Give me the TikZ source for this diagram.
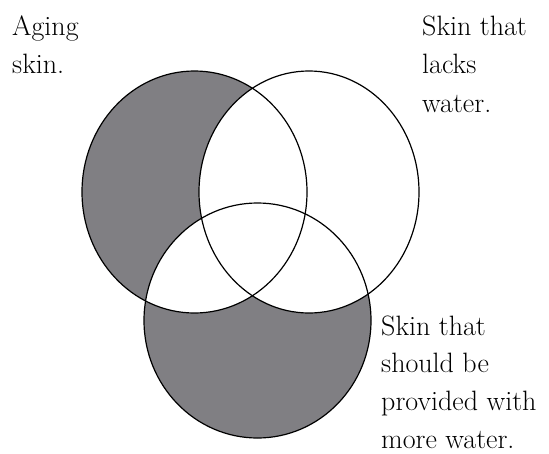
\documentclass[tikz,border=0pt]{standalone}
\definecolor{venngray}{RGB}{128,127,131}
\newcommand{\lblines}[2][38.2pt]{\vtop{\baselineskip=#1\relax #2}}
\begin{document}
\begin{tikzpicture}[x=1pt,y=-1pt,
  ring/.style={draw=black,line width=1.2pt},
  lbl/.style={font=\fontsize{28}{38}\selectfont, inner sep=0pt, anchor=base west}]
\useasboundingbox (0,0) rectangle (549,453);
\coordinate (L) at (194.5,192);
\coordinate (R) at (309,192);
\coordinate (B) at (257.5,320.5);
% shading: left-only and bottom-only
\fill[venngray] (L) ellipse [x radius=112.5, y radius=121];
\fill[venngray] (B) ellipse [x radius=113.5, y radius=117.5];
\begin{scope}
  \clip (R) ellipse [x radius=110, y radius=121];
  \fill[white] (L) ellipse [x radius=112.5, y radius=121];
  \fill[white] (B) ellipse [x radius=113.5, y radius=117.5];
\end{scope}
\begin{scope}
  \clip (L) ellipse [x radius=112.5, y radius=121];
  \fill[white] (B) ellipse [x radius=113.5, y radius=117.5];
\end{scope}
% outlines
\draw[ring] (L) ellipse [x radius=112.5, y radius=121];
\draw[ring] (R) ellipse [x radius=110, y radius=121];
\draw[ring] (B) ellipse [x radius=113.5, y radius=117.5];
% labels
\node[lbl] (aging) at (12,35) {\lblines{\hbox{Aging}\hbox{skin.}}};
\node[lbl] (lacks) at (422,35) {\lblines[38.5pt]{\hbox{Skin that}\hbox{lacks}\hbox{water.}}};
\node[lbl] (more) at (381,335) {\lblines[37.7pt]{\hbox{Skin that}\hbox{should be}\hbox{provided with}\hbox{more water.}}};
\end{tikzpicture}
\end{document}
